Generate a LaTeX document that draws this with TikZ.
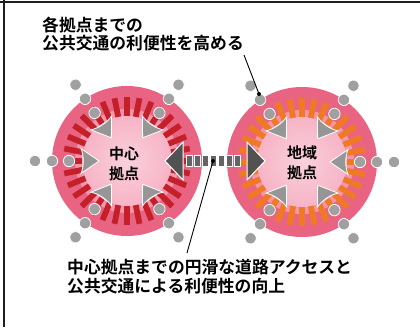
\documentclass[tikz,border=0pt]{standalone}
\usepackage{fontspec}
\newfontfamily\jpb{Noto Sans CJK JP Bold}
\usetikzlibrary{calc}
\definecolor{pkout}{RGB}{232,100,130}
\definecolor{pkband}{RGB}{242,150,174}
\definecolor{pkin}{RGB}{246,180,198}
\definecolor{pkcen}{RGB}{250,208,220}
\definecolor{dashred}{RGB}{196,32,42}
\definecolor{dashor}{RGB}{240,122,36}
\definecolor{dotgray}{RGB}{160,160,160}
\definecolor{arrgray}{RGB}{150,150,150}
\definecolor{darkarr}{RGB}{82,82,82}
\definecolor{blockgray}{RGB}{100,100,100}
\definecolor{framec}{RGB}{30,30,30}
\tikzset{
  jptext/.style={font={\jpb\fontsize{16.8}{18.5}\selectfont}, inner sep=0pt, align=left, text=black},
  hubtext/.style={font={\jpb\fontsize{15}{20}\selectfont}, inner sep=0pt, align=center, text=black},
  graydot/.style={fill=dotgray, draw=white, line width=0.8pt},
  grayarrow/.style={fill=arrgray, draw=white, line width=0.8pt},
  bigarrow/.style={fill=darkarr, draw=white, line width=1pt},
  block/.style={fill=blockgray, draw=white, line width=0.8pt},
  leader/.style={draw=black, line width=0.9pt},
}
\newcommand\drawHub[2]{%
  \fill[pkout] (#1) circle (75pt);
  \fill[pkband] (#1) circle (52pt);
  \shade[inner color=pkcen, outer color=pkin] (#1) circle (45pt);
  \begin{scope}[shift={(#1)}]
    \foreach \a in {0,11.25,...,350} {
      \fill[#2, rotate=\a] (45,-2.9) rectangle (64,2.9);
    }
  \end{scope}}
\newcommand\inArrow[2]{%
  \begin{scope}[shift={(#1)}, rotate=#2]
    \filldraw[grayarrow] (46,12.5) -- (28,0) -- (46,-12.5) .. controls (43,-5) and (43,5) .. cycle;
    \foreach \r in {58,75,92} \filldraw[graydot] (\r,0) circle (5.7pt);
  \end{scope}}
\begin{document}
\begin{tikzpicture}[x=1pt,y=1pt]
\useasboundingbox (0,0) rectangle (420,-327);
\fill[white] (0,0) rectangle (420,-327);
\draw[framec, line width=2.2pt] (0,-2) -- (420,-2);
\draw[framec, line width=2.3pt] (3.8,0) -- (3.8,-327);

\coordinate (cL) at (127,-161);
\coordinate (cR) at (302,-162);

\drawHub{cL}{dashred}
\drawHub{cR}{dashor}

\foreach \t in {180,124,236,56,304} { \inArrow{cL}{\t} }
\foreach \t in {0,124,236,56,304} { \inArrow{cR}{\t} }

% big arrows at the link
\filldraw[bigarrow] (183,-142) -- (165,-161) -- (183,-180) -- cycle;
\filldraw[bigarrow] (247,-142) -- (265,-161) -- (247,-180) -- cycle;

% link blocks
\foreach \i in {0,...,6} {
  \filldraw[block] ({186+\i*8},-155.5) rectangle ++(6.4,-11);
}

% hub labels
\node[hubtext] (hubL) at (124,-163.5) {中心\\拠点};
\node[hubtext] (hubR) at (302,-162.5) {地域\\拠点};

% top label and leader
\node[jptext, anchor=west] (toplbl) at (42,-34) {各拠点までの\\公共交通の利便性を高める};
\coordinate (topA) at (244,-55);
\coordinate (topB) at (259,-94);
\draw[leader] (topA) -- (topB);
\fill[black] (topB) circle (2pt);

% bottom label and leader
\node[jptext, anchor=west] (botlbl) at (67,-276.5) {中心拠点までの円滑な道路アクセスと\\公共交通による利便性の向上};
\coordinate (botA) at (213,-161);
\coordinate (botB) at (187,-253);
\draw[leader] (botA) -- (botB);
\fill[black] (botA) circle (2pt);
\end{tikzpicture}
\end{document}
